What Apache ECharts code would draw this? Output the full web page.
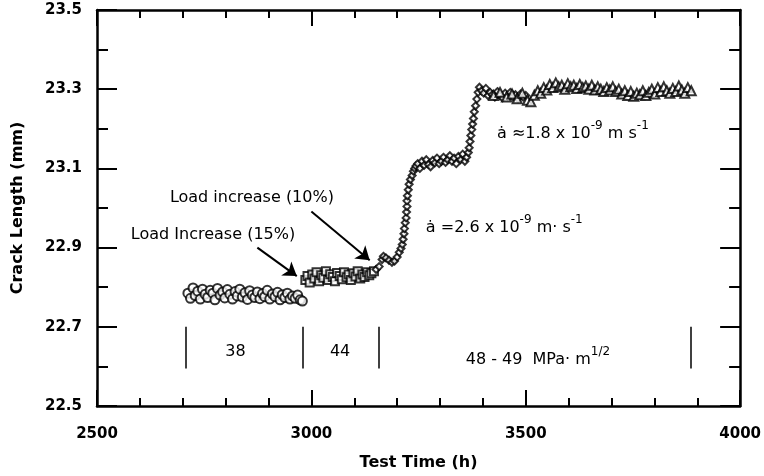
<!DOCTYPE html>
<html><head><meta charset="utf-8">
<script src="https://cdn.jsdelivr.net/npm/echarts@6/dist/echarts.min.js"></script>
<style>html,body{margin:0;padding:0;background:#fff}#c{width:764px;height:476px}</style>
</head><body><div id="c"></div>
<script>
// ---- data ----
const xTickLabels = [2500, 3000, 3500, 4000];
const yTickLabels = [22.5, 22.7, 22.9, 23.1, 23.3, 23.5];

const circlesT = [2712,2718,2724,2729,2735,2741,2746,2752,2758,2764,2770,2775,2781,2787,2793,2798,2804,2810,2816,2822,2827,2833,2839,2845,2851,2856,2862,2868,2874,2880,2886,2891,2897,2903,2909,2915,2921,2927,2932,2938,2944,2950,2956,2962,2968,2974,2979];
const circlesL = [22.785,22.772,22.798,22.779,22.790,22.770,22.795,22.782,22.774,22.792,22.785,22.768,22.797,22.780,22.788,22.773,22.794,22.782,22.770,22.789,22.778,22.795,22.775,22.786,22.769,22.791,22.780,22.774,22.788,22.771,22.784,22.776,22.792,22.770,22.783,22.776,22.787,22.768,22.781,22.774,22.785,22.770,22.778,22.772,22.780,22.768,22.765];

const squaresT = [2986,2991,2996,3002,3007,3012,3018,3023,3028,3034,3039,3044,3050,3055,3060,3066,3071,3076,3082,3087,3092,3098,3103,3108,3114,3119,3124,3130,3135,3140,3146];
const squaresL = [22.818,22.828,22.812,22.832,22.822,22.838,22.815,22.830,22.824,22.840,22.818,22.833,22.826,22.815,22.836,22.828,22.820,22.838,22.825,22.832,22.818,22.835,22.827,22.840,22.822,22.832,22.826,22.838,22.830,22.835,22.840];

const diamondsT = [3151,3158,3165,3168,3174,3181,3188,3194,3200,3205,3209,3212,3214,3216,3217,3219,3221,3222,3223,3223,3224,3226,3228,3231,3235,3238,3241,3244,
  3248,3253,3258,3263,3268,3273,3278,3283,3288,3293,3298,3303,3308,3313,3318,3323,3328,3333,3338,3343,3348,3353,3358,3362,3366,
  3368,3370,3372,3374,3376,3378,3380,3383,3386,3389,
  3392,3397,3402,3407,3412,3417,3422,3428,3434,3440,3446,3452,3458,3464,3470,3476,3482,3488,3494,3500];
const diamondsL = [22.845,22.852,22.870,22.878,22.874,22.868,22.863,22.866,22.876,22.888,22.898,22.908,22.921,22.935,22.948,22.963,22.975,22.990,23.004,23.018,23.031,23.046,23.060,23.072,23.082,23.093,23.100,23.106,
  23.112,23.100,23.118,23.108,23.122,23.110,23.104,23.120,23.114,23.126,23.112,23.118,23.128,23.115,23.122,23.132,23.118,23.126,23.112,23.130,23.122,23.136,23.118,23.128,23.140,
  23.152,23.168,23.183,23.198,23.212,23.226,23.243,23.258,23.275,23.292,
  23.305,23.296,23.290,23.302,23.284,23.292,23.286,23.280,23.294,23.284,23.278,23.290,23.282,23.292,23.280,23.286,23.276,23.288,23.280,23.284];

const trianglesT = [3425,3440,3455,3468,3480,3492,3504,3512,3520,3528,3535,3542,3549,3556,3563,3570,3577,3584,3591,3598,3605,3612,3619,3626,3633,3640,3647,3654,3661,3668,3675,3682,3689,3696,3703,3710,3717,3724,3731,3738,3745,3752,3759,3766,3773,3780,3787,3794,3801,3808,3815,3822,3829,3836,3843,3850,3857,3864,3871,3878,3886];
const trianglesL = [23.284,23.292,23.280,23.288,23.276,23.290,23.272,23.268,23.285,23.296,23.290,23.304,23.298,23.312,23.304,23.316,23.306,23.310,23.300,23.314,23.306,23.310,23.302,23.312,23.304,23.308,23.300,23.310,23.298,23.306,23.300,23.294,23.304,23.298,23.306,23.294,23.300,23.288,23.296,23.284,23.294,23.282,23.290,23.286,23.296,23.284,23.292,23.300,23.288,23.304,23.294,23.306,23.296,23.290,23.302,23.294,23.308,23.298,23.290,23.304,23.296];

// stress-intensity range dividers (time, h) and their vertical extent (mm)
const dividerT = [2706, 2979, 3158, 3884];
const dividerRange = [22.595, 22.700];
const rangeLabels = ['38', '44', '{n|48 - 49  MPa· m}{sup|1/2}'];

// ---- chart ----
const FONT = 'DejaVu Sans';
const zip = (a, b) => a.map((v, i) => [v, b[i]]);
const chart = echarts.init(document.getElementById('c'));

const markerStyle = {color: '#fff', borderColor: '#000', borderWidth: 2};
const axisLineStyle = {color: '#000', width: 2.5};
const tickLineStyle = {color: '#000', width: 2};

function xAx(pos, showLabel) {
  return {
    type: 'value', position: pos, min: 2500, max: 4000, interval: 500,
    axisLine: {show: true, onZero: false, lineStyle: axisLineStyle},
    axisTick: {show: true, inside: true, length: 16, lineStyle: tickLineStyle},
    minorTick: {show: true, splitNumber: 5, length: 8, lineStyle: tickLineStyle},
    splitLine: {show: false}, minorSplitLine: {show: false},
    axisLabel: {show: showLabel, fontFamily: FONT, fontWeight: 'bold', fontSize: 15, color: '#000', margin: 21,
      customValues: xTickLabels, formatter: v => String(v)},
    name: showLabel ? 'Test Time (h)' : '', nameLocation: 'middle', nameGap: 49,
    nameTextStyle: {fontFamily: FONT, fontWeight: 'bold', fontSize: 16, color: '#000'}
  };
}
function yAx(pos, major, showLabel) {
  const a = {
    type: 'value', position: pos, min: 22.5, max: 23.5, interval: 0.1,
    axisLine: {show: major, onZero: false, lineStyle: axisLineStyle},
    axisTick: {show: true, inside: true, length: major ? 20 : 11, lineStyle: tickLineStyle},
    splitLine: {show: false},
    axisLabel: {show: showLabel, fontFamily: FONT, fontWeight: 'bold', fontSize: 15, color: '#000', margin: 15,
      formatter: v => v.toFixed(1)},
    name: showLabel ? 'Crack Length (mm)' : '', nameLocation: 'middle', nameGap: 71,
    nameTextStyle: {fontFamily: FONT, fontWeight: 'bold', fontSize: 16, color: '#000'}
  };
  if (major) { a.axisTick.customValues = yTickLabels; a.axisLabel.customValues = yTickLabels; }
  return a;
}

const series = [
  {type: 'scatter', symbol: 'circle', symbolSize: 9, data: zip(circlesT, circlesL), itemStyle: markerStyle,
   markLine: {silent: true, symbol: 'none', label: {show: false}, animation: false,
     lineStyle: {color: '#000', width: 1.5, type: 'solid'},
     emphasis: {disabled: true},
     data: dividerT.map(t => [{coord: [t, dividerRange[0]]}, {coord: [t, dividerRange[1]]}])}},
  {type: 'scatter', symbol: 'rect', symbolSize: 8, data: zip(squaresT, squaresL), itemStyle: markerStyle,
   markLine: {silent: true, symbol: ['none', 'arrow'], symbolSize: 13, label: {show: false}, animation: false,
     lineStyle: {color: '#000', width: 2, type: 'solid'},
     emphasis: {disabled: true},
     data: [
       [{coord: [3000, 22.991]}, {coord: [3136, 22.868]}],
       [{coord: [2874, 22.900]}, {coord: [2966, 22.828]}]
     ]}},
  {type: 'scatter', symbol: 'diamond', symbolSize: 7, data: zip(diamondsT, diamondsL), itemStyle: markerStyle},
  {type: 'scatter', symbol: 'triangle', symbolSize: 9, data: zip(trianglesT, trianglesL), itemStyle: markerStyle}
];

chart.setOption({
  animation: false,
  backgroundColor: '#fff',
  grid: {left: 97, right: 22, top: 10, bottom: 69, containLabel: false},
  xAxis: [xAx('bottom', true), xAx('top', false)],
  yAxis: [yAx('left', true, true), yAx('left', false, false), yAx('right', true, false), yAx('right', false, false)],
  series: series
});

// ---- annotations placed through the axes ----
const px = (t, L) => chart.convertToPixel({xAxisIndex: 0, yAxisIndex: 0}, [t, L]);
const baseRich = {
  n: {fontFamily: FONT, fontSize: 16, fill: '#000', verticalAlign: 'bottom', lineHeight: 26},
  sup: {fontFamily: FONT, fontSize: 12, fill: '#000', verticalAlign: 'bottom', lineHeight: 26, padding: [0, 0, 10, 0]}
};
function txt(t, L, s, opts) {
  const p = px(t, L);
  return {type: 'text', x: p[0], y: p[1], silent: true,
    style: Object.assign({text: s, fill: '#000', font: '16px "DejaVu Sans"', align: 'left', verticalAlign: 'middle', rich: baseRich}, opts || {})};
}
const graphics = [
  txt(2670, 23.026, 'Load increase (10%)'),
  txt(2579, 22.933, 'Load Increase (15%)'),
  txt(3267, 22.962, '{n|ȧ =2.6 x 10}{sup|-9}{n| m· s}{sup|-1}'),
  txt(3433, 23.200, '{n|ȧ ≈1.8 x 10}{sup|-9}{n| m s}{sup|-1}'),
  txt(2823, 22.636, rangeLabels[0], {align: 'center'}),
  txt(3067, 22.636, rangeLabels[1], {align: 'center'}),
  txt(3360, 22.630, rangeLabels[2])
];
chart.setOption({graphic: graphics});
</script></body></html>
